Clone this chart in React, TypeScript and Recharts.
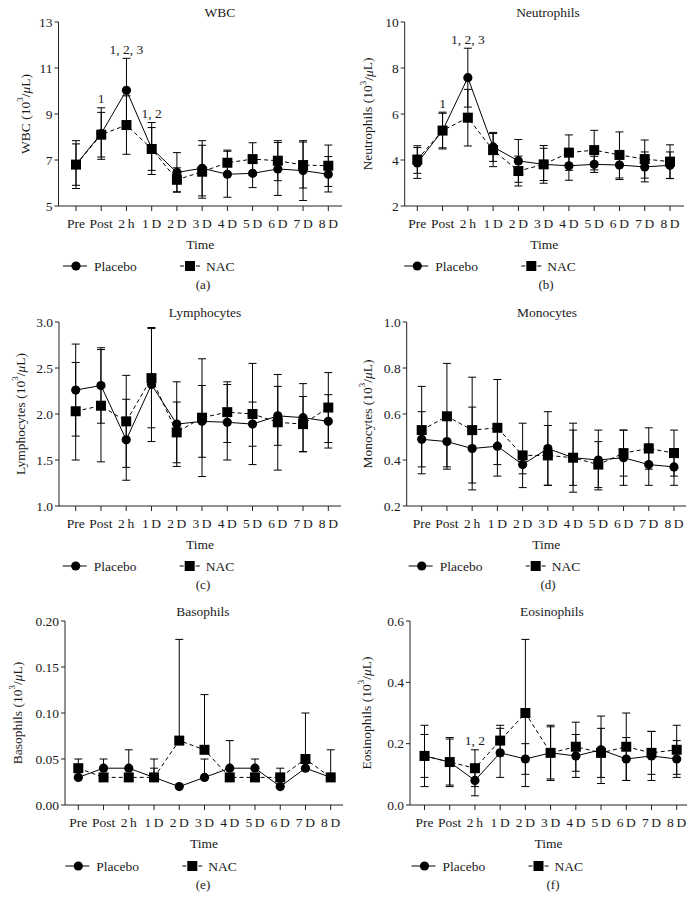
import React from 'react';
import { LineChart, Line, XAxis, YAxis, ErrorBar, Legend, ReferenceDot, Customized } from 'recharts';

const FONT = '"Liberation Serif", "Times New Roman", Times, serif';
const INK = '#1a1a1a';

// ---- categories ----
const timePoints = ['Pre', 'Post', '2\u2009h', '1\u2009D', '2\u2009D', '3\u2009D', '4\u2009D', '5\u2009D', '6\u2009D', '7\u2009D', '8\u2009D'];

// ---- WBC ----
const wbcPlacebo = [6.8, 8.15, 10.03, 7.5, 6.46, 6.64, 6.38, 6.42, 6.61, 6.54, 6.38];
const wbcPlaceboErr = [1.04, 1.12, 1.39, 1.13, 0.86, 1.2, 1.0, 0.62, 1.15, 1.3, 0.77];
const wbcNAC = [6.8, 8.1, 8.52, 7.48, 6.14, 6.49, 6.88, 7.04, 6.97, 6.78, 6.75];
const wbcNACErr = [0.9, 0.97, 1.27, 0.93, 0.52, 1.15, 0.55, 0.71, 0.87, 1.0, 0.9];
const wbcTicks = [5, 7, 9, 11, 13];

// ---- Neutrophils ----
const neuPlacebo = [3.87, 5.28, 7.58, 4.57, 3.96, 3.81, 3.75, 3.81, 3.78, 3.7, 3.77];
const neuPlaceboErr = [0.67, 0.8, 1.28, 0.63, 0.93, 0.82, 0.63, 0.35, 0.63, 0.65, 0.58];
const neuNAC = [4.02, 5.28, 5.84, 4.43, 3.52, 3.81, 4.32, 4.43, 4.22, 4.04, 3.93];
const neuNACErr = [0.6, 0.75, 1.23, 0.72, 0.65, 0.7, 0.77, 0.86, 1.0, 0.83, 0.73];
const neuTicks = [2, 4, 6, 8, 10];

// ---- Lymphocytes ----
const lymPlacebo = [2.26, 2.31, 1.72, 2.32, 1.89, 1.92, 1.91, 1.89, 1.98, 1.96, 1.92];
const lymPlaceboErr = [0.5, 0.41, 0.44, 0.62, 0.46, 0.39, 0.41, 0.24, 0.32, 0.37, 0.29];
const lymNAC = [2.03, 2.09, 1.92, 2.39, 1.8, 1.96, 2.02, 2.0, 1.91, 1.89, 2.07];
const lymNACErr = [0.53, 0.61, 0.5, 0.54, 0.33, 0.64, 0.33, 0.55, 0.52, 0.3, 0.38];
const lymTicks = [1.0, 1.5, 2.0, 2.5, 3.0];

// ---- Monocytes ----
const monPlacebo = [0.49, 0.48, 0.45, 0.46, 0.38, 0.45, 0.41, 0.4, 0.41, 0.38, 0.37];
const monPlaceboErr = [0.12, 0.11, 0.18, 0.08, 0.04, 0.16, 0.12, 0.13, 0.12, 0.09, 0.08];
const monNAC = [0.53, 0.59, 0.53, 0.54, 0.42, 0.42, 0.41, 0.38, 0.43, 0.45, 0.43];
const monNACErr = [0.19, 0.23, 0.23, 0.21, 0.14, 0.13, 0.15, 0.1, 0.1, 0.09, 0.1];
const monTicks = [0.2, 0.4, 0.6, 0.8, 1.0];

// ---- Basophils (upper error only) ----
const basPlacebo = [0.03, 0.04, 0.04, 0.03, 0.02, 0.03, 0.04, 0.04, 0.02, 0.04, 0.03];
const basPlaceboUp = [0.01, 0.01, 0.02, 0.02, 0, 0.02, 0.03, 0.01, 0, 0, 0];
const basNAC = [0.04, 0.03, 0.03, 0.03, 0.07, 0.06, 0.03, 0.03, 0.03, 0.05, 0.03];
const basNACUp = [0.01, 0, 0, 0.01, 0.11, 0.06, 0, 0, 0.01, 0.05, 0.03];
const basTicks = [0, 0.05, 0.1, 0.15, 0.2];

// ---- Eosinophils ----
const eosPlacebo = [0.16, 0.14, 0.08, 0.17, 0.15, 0.17, 0.16, 0.18, 0.15, 0.16, 0.15];
const eosPlaceboErr = [0.1, 0.08, 0.05, 0.08, 0.05, 0.085, 0.07, 0.11, 0.07, 0.08, 0.06];
const eosNAC = [0.16, 0.14, 0.12, 0.21, 0.3, 0.17, 0.19, 0.17, 0.19, 0.17, 0.18];
const eosNACErr = [0.07, 0.075, 0.06, 0.05, 0.24, 0.09, 0.08, 0.08, 0.11, 0.07, 0.08];
const eosTicks = [0, 0.2, 0.4, 0.6];

// ---- significance notes ----
const wbcNotes = [
  { time: 'Post', text: '1' },
  { time: '2\u2009h', text: '1, 2, 3' },
  { time: '1\u2009D', text: '1, 2' },
];
const neuNotes = [
  { time: 'Post', text: '1' },
  { time: '2\u2009h', text: '1, 2, 3' },
];
const eosNotes = [{ time: '2\u2009h', text: '1, 2' }];

type Err = [number, number];
const sym = (arr: number[]): Err[] => arr.map((e) => [e, e] as Err);
const upOnly = (arr: number[]): Err[] => arr.map((e) => [0, e] as Err);

const panels = [
  { title: 'WBC', yName: 'WBC', caption: '(a)', ticks: wbcTicks, dec: 0, p: wbcPlacebo, pe: sym(wbcPlaceboErr), n: wbcNAC, ne: sym(wbcNACErr), notes: wbcNotes },
  { title: 'Neutrophils', yName: 'Neutrophils', caption: '(b)', ticks: neuTicks, dec: 0, p: neuPlacebo, pe: sym(neuPlaceboErr), n: neuNAC, ne: sym(neuNACErr), notes: neuNotes },
  { title: 'Lymphocytes', yName: 'Lymphocytes', caption: '(c)', ticks: lymTicks, dec: 1, p: lymPlacebo, pe: sym(lymPlaceboErr), n: lymNAC, ne: sym(lymNACErr), notes: [] },
  { title: 'Monocytes', yName: 'Monocytes', caption: '(d)', ticks: monTicks, dec: 1, p: monPlacebo, pe: sym(monPlaceboErr), n: monNAC, ne: sym(monNACErr), notes: [] },
  { title: 'Basophils', yName: 'Basophils', caption: '(e)', ticks: basTicks, dec: 2, p: basPlacebo, pe: upOnly(basPlaceboUp), n: basNAC, ne: upOnly(basNACUp), notes: [] },
  { title: 'Eosinophils', yName: 'Eosinophils', caption: '(f)', ticks: eosTicks, dec: 1, p: eosPlacebo, pe: sym(eosPlaceboErr), n: eosNAC, ne: sym(eosNACErr), notes: eosNotes },
];

// ---- layout (pixel geometry per panel) ----
const layouts = [
  { left: 0, top: 0, plotTop: 22, axisX: 58.5, firstX: 76, lastX: 328.3, rightX: 342, titleX: 220, ylabelX: 25, captionX: 203 },
  { left: 349, top: 0, plotTop: 22, axisX: 55.7, firstX: 68.3, lastX: 321, rightX: 335, titleX: 199, ylabelX: 18.5, captionX: 197 },
  { left: 0, top: 300, plotTop: 22, axisX: 59, firstX: 75.7, lastX: 328.3, rightX: 341, titleX: 205, ylabelX: 20, captionX: 203 },
  { left: 349, top: 300, plotTop: 22, axisX: 57.7, firstX: 72.7, lastX: 325, rightX: 337, titleX: 198, ylabelX: 18, captionX: 199 },
  { left: 0, top: 600, plotTop: 21, axisX: 65, firstX: 78.3, lastX: 330.7, rightX: 343, titleX: 203, ylabelX: 17, captionX: 203 },
  { left: 349, top: 600, plotTop: 21, axisX: 61, firstX: 75.5, lastX: 327.7, rightX: 338, titleX: 203, ylabelX: 17, captionX: 204 },
];

const PANEL_W = 349;
const PANEL_H = 300;
const PLOT_H = 184;
const XAXIS_H = 45;

const circleDot = (p: any) => (
  <circle key={`c-${p.index}`} cx={p.cx} cy={p.cy} r={4.6} fill="#000" />
);
const squareDot = (p: any) => (
  <rect key={`s-${p.index}`} x={p.cx - 5} y={p.cy - 5} width={10} height={10} fill="#000" />
);

function LegendBox({ x0 }: { x0: number }) {
  const y = 11;
  const sx = x0 + 114;
  return (
    <svg width={PANEL_W} height={22} style={{ display: 'block', overflow: 'visible' }}>
      <line x1={x0 - 13} x2={x0 + 11} y1={y} y2={y} stroke="#000" strokeWidth={1} />
      <circle cx={x0} cy={y} r={4.6} fill="#000" />
      <text x={x0 + 18} y={y + 4.5} fontSize={13.5} fontFamily={FONT} fill={INK}>Placebo</text>
      <line x1={sx - 10} x2={sx - 6} y1={y} y2={y} stroke="#000" strokeWidth={1} />
      <line x1={sx + 6} x2={sx + 10} y1={y} y2={y} stroke="#000" strokeWidth={1} />
      <rect x={sx - 5} y={y - 5} width={10} height={10} fill="#000" />
      <text x={x0 + 130} y={y + 4.5} fontSize={13.5} fontFamily={FONT} fill={INK}>NAC</text>
    </svg>
  );
}

function Extras({ title, yName, caption, lay }: any) {
  const midY = lay.plotTop + PLOT_H / 2;
  return (
    <g>
      <text x={lay.titleX} y={lay.plotTop - 5} textAnchor="middle" fontSize={13.5} fontFamily={FONT} fill={INK}>{title}</text>
      <text
        transform={`translate(${lay.ylabelX},${midY}) rotate(-90)`}
        textAnchor="middle"
        dominantBaseline="central"
        fontSize={13.5}
        fontFamily={FONT}
        fill={INK}
      >
        {yName} (10
        <tspan dy={-5} fontSize={9}>3</tspan>
        <tspan dy={5}>/</tspan>
        <tspan fontStyle="italic">μ</tspan>L)
      </text>
      <text x={lay.captionX} y={289} textAnchor="middle" fontSize={13} fontFamily={FONT} fill={INK}>{caption}</text>
    </g>
  );
}

function Panel({ cfg, lay }: any) {
  const data = timePoints.map((t, i) => ({
    time: t,
    placebo: cfg.p[i],
    pErr: cfg.pe[i],
    nac: cfg.n[i],
    nErr: cfg.ne[i],
  }));
  const top = (i: number) => Math.max(cfg.p[i] + cfg.pe[i][1], cfg.n[i] + cfg.ne[i][1]);
  const domain: [number, number] = [cfg.ticks[0], cfg.ticks[cfg.ticks.length - 1]];
  const bottom = PANEL_H - lay.plotTop - PLOT_H - XAXIS_H;
  const tickStyle = { fontSize: 13.5, fill: INK, fontFamily: FONT };
  return (
    <div style={{ position: 'absolute', left: lay.left, top: lay.top, width: PANEL_W, height: PANEL_H }}>
      <LineChart
        width={PANEL_W}
        height={PANEL_H}
        data={data}
        margin={{ top: lay.plotTop, right: PANEL_W - lay.rightX, bottom, left: 0 }}
      >
        <XAxis
          dataKey="time"
          type="category"
          interval={0}
          padding={{ left: lay.firstX - lay.axisX, right: lay.rightX - lay.lastX }}
          tickSize={5}
          tickMargin={7}
          height={XAXIS_H}
          stroke="#222"
          tick={tickStyle}
          label={{ value: 'Time', position: 'insideBottom', offset: 2, fontSize: 13.5, fill: INK, fontFamily: FONT }}
        />
        <YAxis
          type="number"
          domain={domain}
          ticks={cfg.ticks}
          interval={0}
          width={lay.axisX}
          tickSize={4}
          tickMargin={2}
          stroke="#222"
          tick={tickStyle}
          tickFormatter={(v: number) => v.toFixed(cfg.dec)}
        />
        <Line
          dataKey="placebo"
          type="linear"
          stroke="#000"
          strokeWidth={1}
          dot={circleDot}
          activeDot={false}
          isAnimationActive={false}
        >
          <ErrorBar dataKey="pErr" direction="y" width={4} stroke="#000" strokeWidth={1} />
        </Line>
        <Line
          dataKey="nac"
          type="linear"
          stroke="#000"
          strokeWidth={1}
          strokeDasharray="4 3"
          dot={squareDot}
          activeDot={false}
          isAnimationActive={false}
        >
          <ErrorBar dataKey="nErr" direction="y" width={4} stroke="#000" strokeWidth={1} />
        </Line>
        {cfg.notes.map((nt: any) => {
          const i = timePoints.indexOf(nt.time);
          return (
            <ReferenceDot
              key={nt.time}
              x={nt.time}
              y={top(i)}
              r={0.5}
              fill="none"
              stroke="none"
              ifOverflow="visible"
              label={{ value: nt.text, position: 'top', offset: 4, fontSize: 13.5, fill: INK, fontFamily: FONT }}
            />
          );
        })}
        <Legend
          layout="vertical"
          align="center"
          verticalAlign="middle"
          wrapperStyle={{ left: 0, top: 255, width: PANEL_W, height: 22 }}
          content={() => <LegendBox x0={lay.firstX} />}
        />
        <Customized component={<Extras title={cfg.title} yName={cfg.yName} caption={cfg.caption} lay={lay} />} />
      </LineChart>
    </div>
  );
}

export default function App() {
  return (
    <div style={{ position: 'absolute', left: 0, top: 0, width: 698, height: 915, background: '#fff', fontFamily: FONT }}>
      {panels.map((cfg, i) => (
        <Panel key={cfg.title} cfg={cfg} lay={layouts[i]} />
      ))}
    </div>
  );
}
